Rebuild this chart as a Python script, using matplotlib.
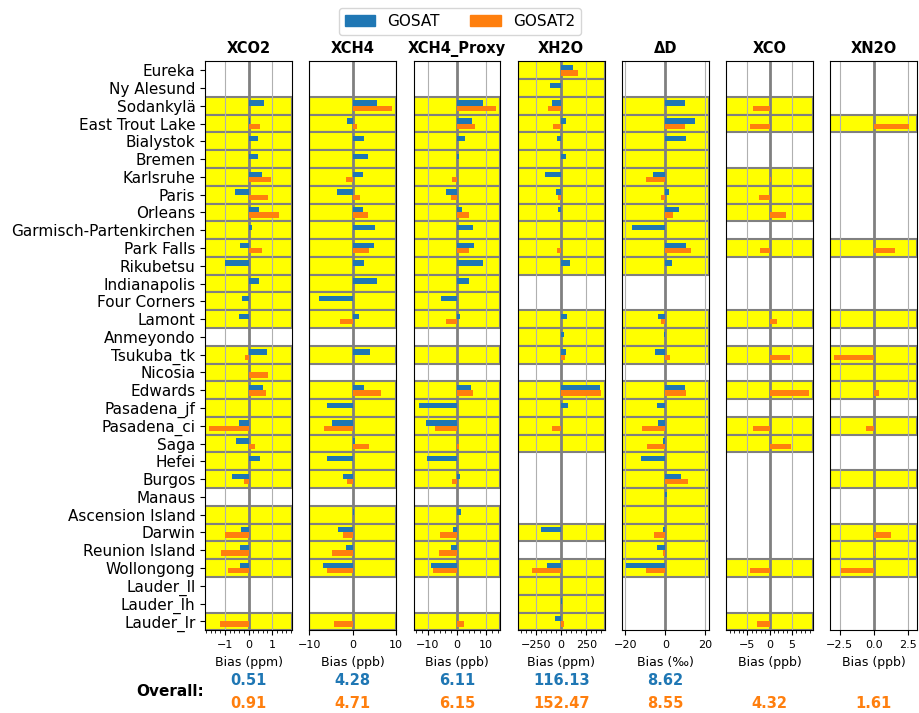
import numpy as np
import matplotlib
matplotlib.use('Agg')
import matplotlib.pyplot as plt
from matplotlib.ticker import AutoMinorLocator
from matplotlib.patches import Patch

nan = np.nan

stations = ['Eureka', 'Ny Alesund', 'Sodankylä', 'East Trout Lake', 'Bialystok',
            'Bremen', 'Karlsruhe', 'Paris', 'Orleans', 'Garmisch-Partenkirchen',
            'Park Falls', 'Rikubetsu', 'Indianapolis', 'Four Corners', 'Lamont',
            'Anmeyondo', 'Tsukuba_tk', 'Nicosia', 'Edwards', 'Pasadena_jf',
            'Pasadena_ci', 'Saga', 'Hefei', 'Burgos', 'Manaus', 'Ascension Island',
            'Darwin', 'Reunion Island', 'Wollongong', 'Lauder_ll', 'Lauder_lh',
            'Lauder_lr']

gases = ['XCO2', 'XCH4', 'XCH4_Proxy', 'XH2O', 'ΔD', 'XCO', 'XN2O']
units = ['ppm', 'ppb', 'ppb', 'ppm', '‰', 'ppb', 'ppb']

# bias per station (nan = no data)
xco2_gosat = [nan, nan, 0.64, 0.07, 0.38, 0.38, 0.57, -0.58, 0.45, 0.14, -0.35, -0.99,
              0.45, -0.27, -0.40, nan, 0.79, nan, 0.61, 0.0, -0.40, -0.55, 0.50, -0.71,
              nan, 0.0, -0.31, -0.35, -0.35, nan, nan, nan]
xco2_gosat2 = [nan, nan, nan, 0.50, nan, nan, 0.96, 0.81, 1.28, nan, 0.57, nan,
               nan, nan, nan, nan, -0.17, 0.84, 0.74, nan, -1.67, 0.26, nan, -0.20,
               nan, nan, -0.99, -1.18, -0.87, nan, nan, -1.21]

xch4_gosat = [nan, nan, 5.47, -1.33, 2.66, 3.52, 2.42, -3.67, 2.42, 5.23, 5.0, 2.66,
              5.47, -7.81, 1.33, nan, 3.9, nan, 2.66, -6.0, -4.77, 0.47, -6.0, -2.34,
              nan, 0.23, -3.5, -1.48, -6.95, nan, nan, nan]
xch4_gosat2 = [nan, nan, 9.1, 1.02, nan, nan, -1.56, 1.56, 3.52, nan, 3.75, nan,
               nan, nan, -3.05, nan, nan, nan, 6.4, nan, -6.56, 3.7, nan, -1.25,
               nan, nan, -2.34, -4.77, -5.86, nan, nan, -4.38]

proxy_gosat = [nan, nan, 8.85, 5.29, 2.87, 0.8, nan, -3.68, 1.72, 5.63, 5.98, 8.85,
               4.02, -5.63, 1.15, nan, 0.0, nan, 4.94, -13.2, -10.7, nan, -10.3, 1.15,
               nan, 1.5, -1.5, -2.18, -8.85, nan, nan, nan]
proxy_gosat2 = [nan, nan, 13.56, 6.2, nan, nan, -1.84, -2.07, 4.02, nan, 4.02, nan,
                nan, nan, -3.68, nan, nan, nan, 5.4, nan, -7.7, 0.8, nan, -1.84,
                nan, nan, -5.86, -6.2, -8.16, nan, nan, 2.53]

xh2o_gosat = [117, -110, -90, 50, -43, 43, -163, -53, -33, 0, nan, 90,
              nan, nan, 60, 23, 43, nan, 383, 63, nan, 0, nan, nan,
              nan, nan, -197, nan, -140, 0, 8, -63]
xh2o_gosat2 = [163, nan, -127, -80, nan, nan, nan, -27, nan, nan, -37, nan,
               nan, nan, nan, nan, 33, nan, 393, nan, -87, nan, nan, nan,
               nan, nan, nan, nan, -287, nan, nan, 30]

dd_gosat = [nan, nan, 9.7, 14.7, 10.2, 0, -6.2, 1.8, 6.8, -16.8, 10.2, 3.3,
            nan, nan, -3.5, -0.8, -5.0, nan, 10.0, -4.0, -3.5, -1.2, -12.3, 7.8,
            0.8, 0, -1.2, -4.0, -19.7, nan, nan, nan]
dd_gosat2 = [nan, nan, nan, 9.7, nan, nan, -9.5, -2.0, 3.7, nan, 12.8, nan,
             nan, nan, -2.0, nan, 2.3, nan, 10.2, nan, -11.8, -9.0, nan, 11.2,
             nan, nan, -5.8, -1.3, -9.5, nan, nan, nan]

xco_gosat = [nan] * 32
xco_gosat2 = [nan, nan, -3.7, -4.5, nan, nan, 0.4, -2.4, 3.6, nan, -2.2, nan,
              nan, nan, 1.7, nan, 4.5, nan, 8.9, nan, -3.7, 4.8, nan, nan,
              nan, nan, nan, nan, -4.5, nan, nan, -2.8]

xn2o_gosat = [nan] * 32
xn2o_gosat2 = [nan, nan, nan, 2.6, nan, nan, nan, nan, nan, nan, 1.57, nan,
               nan, nan, 0.0, nan, -2.9, 0.0, 0.36, nan, -0.56, nan, nan, 0.0,
               nan, nan, 1.23, 0.1, -2.44, nan, nan, nan]

overall_gosat = [0.51, 4.28, 6.11, 116.13, 8.62, nan, nan]
overall_gosat2 = [0.91, 4.71, 6.15, 152.47, 8.55, 4.32, 1.61]

gosat = [xco2_gosat, xch4_gosat, proxy_gosat, xh2o_gosat, dd_gosat, xco_gosat, xn2o_gosat]
gosat2 = [xco2_gosat2, xch4_gosat2, proxy_gosat2, xh2o_gosat2, dd_gosat2, xco_gosat2, xn2o_gosat2]
minor = [True, False, True, True, False, True, False]

c1, c2 = '#1f77b4', '#ff7f0e'

fig, axes = plt.subplots(1, 7, figsize=(9.2, 7.13), dpi=100, sharey=True)
fig.subplots_adjust(left=0.223, right=0.997, top=0.914, bottom=0.116, wspace=0.2)

y = np.arange(len(stations))
for i, ax in enumerate(axes):
    g1 = np.array(gosat[i], dtype=float)
    g2 = np.array(gosat2[i], dtype=float)
    # yellow rows where there is data
    for k in range(len(stations)):
        if not (np.isnan(g1[k]) and np.isnan(g2[k])):
            ax.axhspan(k - 0.5, k + 0.5, facecolor='yellow', edgecolor='gray', lw=1.5, zorder=0)
    ax.barh(y - 0.15, np.nan_to_num(g1), height=0.3, color=c1, zorder=3)
    ax.barh(y + 0.15, np.nan_to_num(g2), height=0.3, color=c2, zorder=3)
    lim = 1.1 * np.nanmax(np.abs(np.concatenate([g1, g2])))
    ax.set_xlim(-lim, lim)
    ax.set_ylim(len(stations) - 0.5, -0.5)
    ax.grid(axis='x', zorder=1)
    ax.axvline(0, color='gray', lw=2, zorder=2)
    ax.tick_params(axis='x', labelsize=8)
    if minor[i]:
        ax.xaxis.set_minor_locator(AutoMinorLocator())
    ax.set_title(gases[i], fontsize=10.5, fontweight='bold')
    ax.set_xlabel('Bias (%s)' % units[i], fontsize=9)
    if i == 0:
        ax.set_yticks(y)
        ax.set_yticklabels(stations, fontsize=11)
    else:
        ax.tick_params(axis='y', left=False)
    if not np.isnan(overall_gosat[i]):
        ax.text(0.5, -0.089, '%.2f' % overall_gosat[i], transform=ax.transAxes, color=c1,
                fontsize=10.5, fontweight='bold', ha='center', va='center')
    ax.text(0.5, -0.128, '%.2f' % overall_gosat2[i], transform=ax.transAxes, color=c2,
            fontsize=10.5, fontweight='bold', ha='center', va='center')

fig.text(170 / 920, 1 - 692 / 713, 'Overall:', fontsize=11, fontweight='bold',
         ha='center', va='center')

handles = [Patch(color=c1, label='GOSAT'), Patch(color=c2, label='GOSAT2')]
fig.legend(handles=handles, loc='upper center', bbox_to_anchor=(0.5, 1.0), ncol=2,
           fontsize=11)

fig.savefig('out.png', dpi=100)
